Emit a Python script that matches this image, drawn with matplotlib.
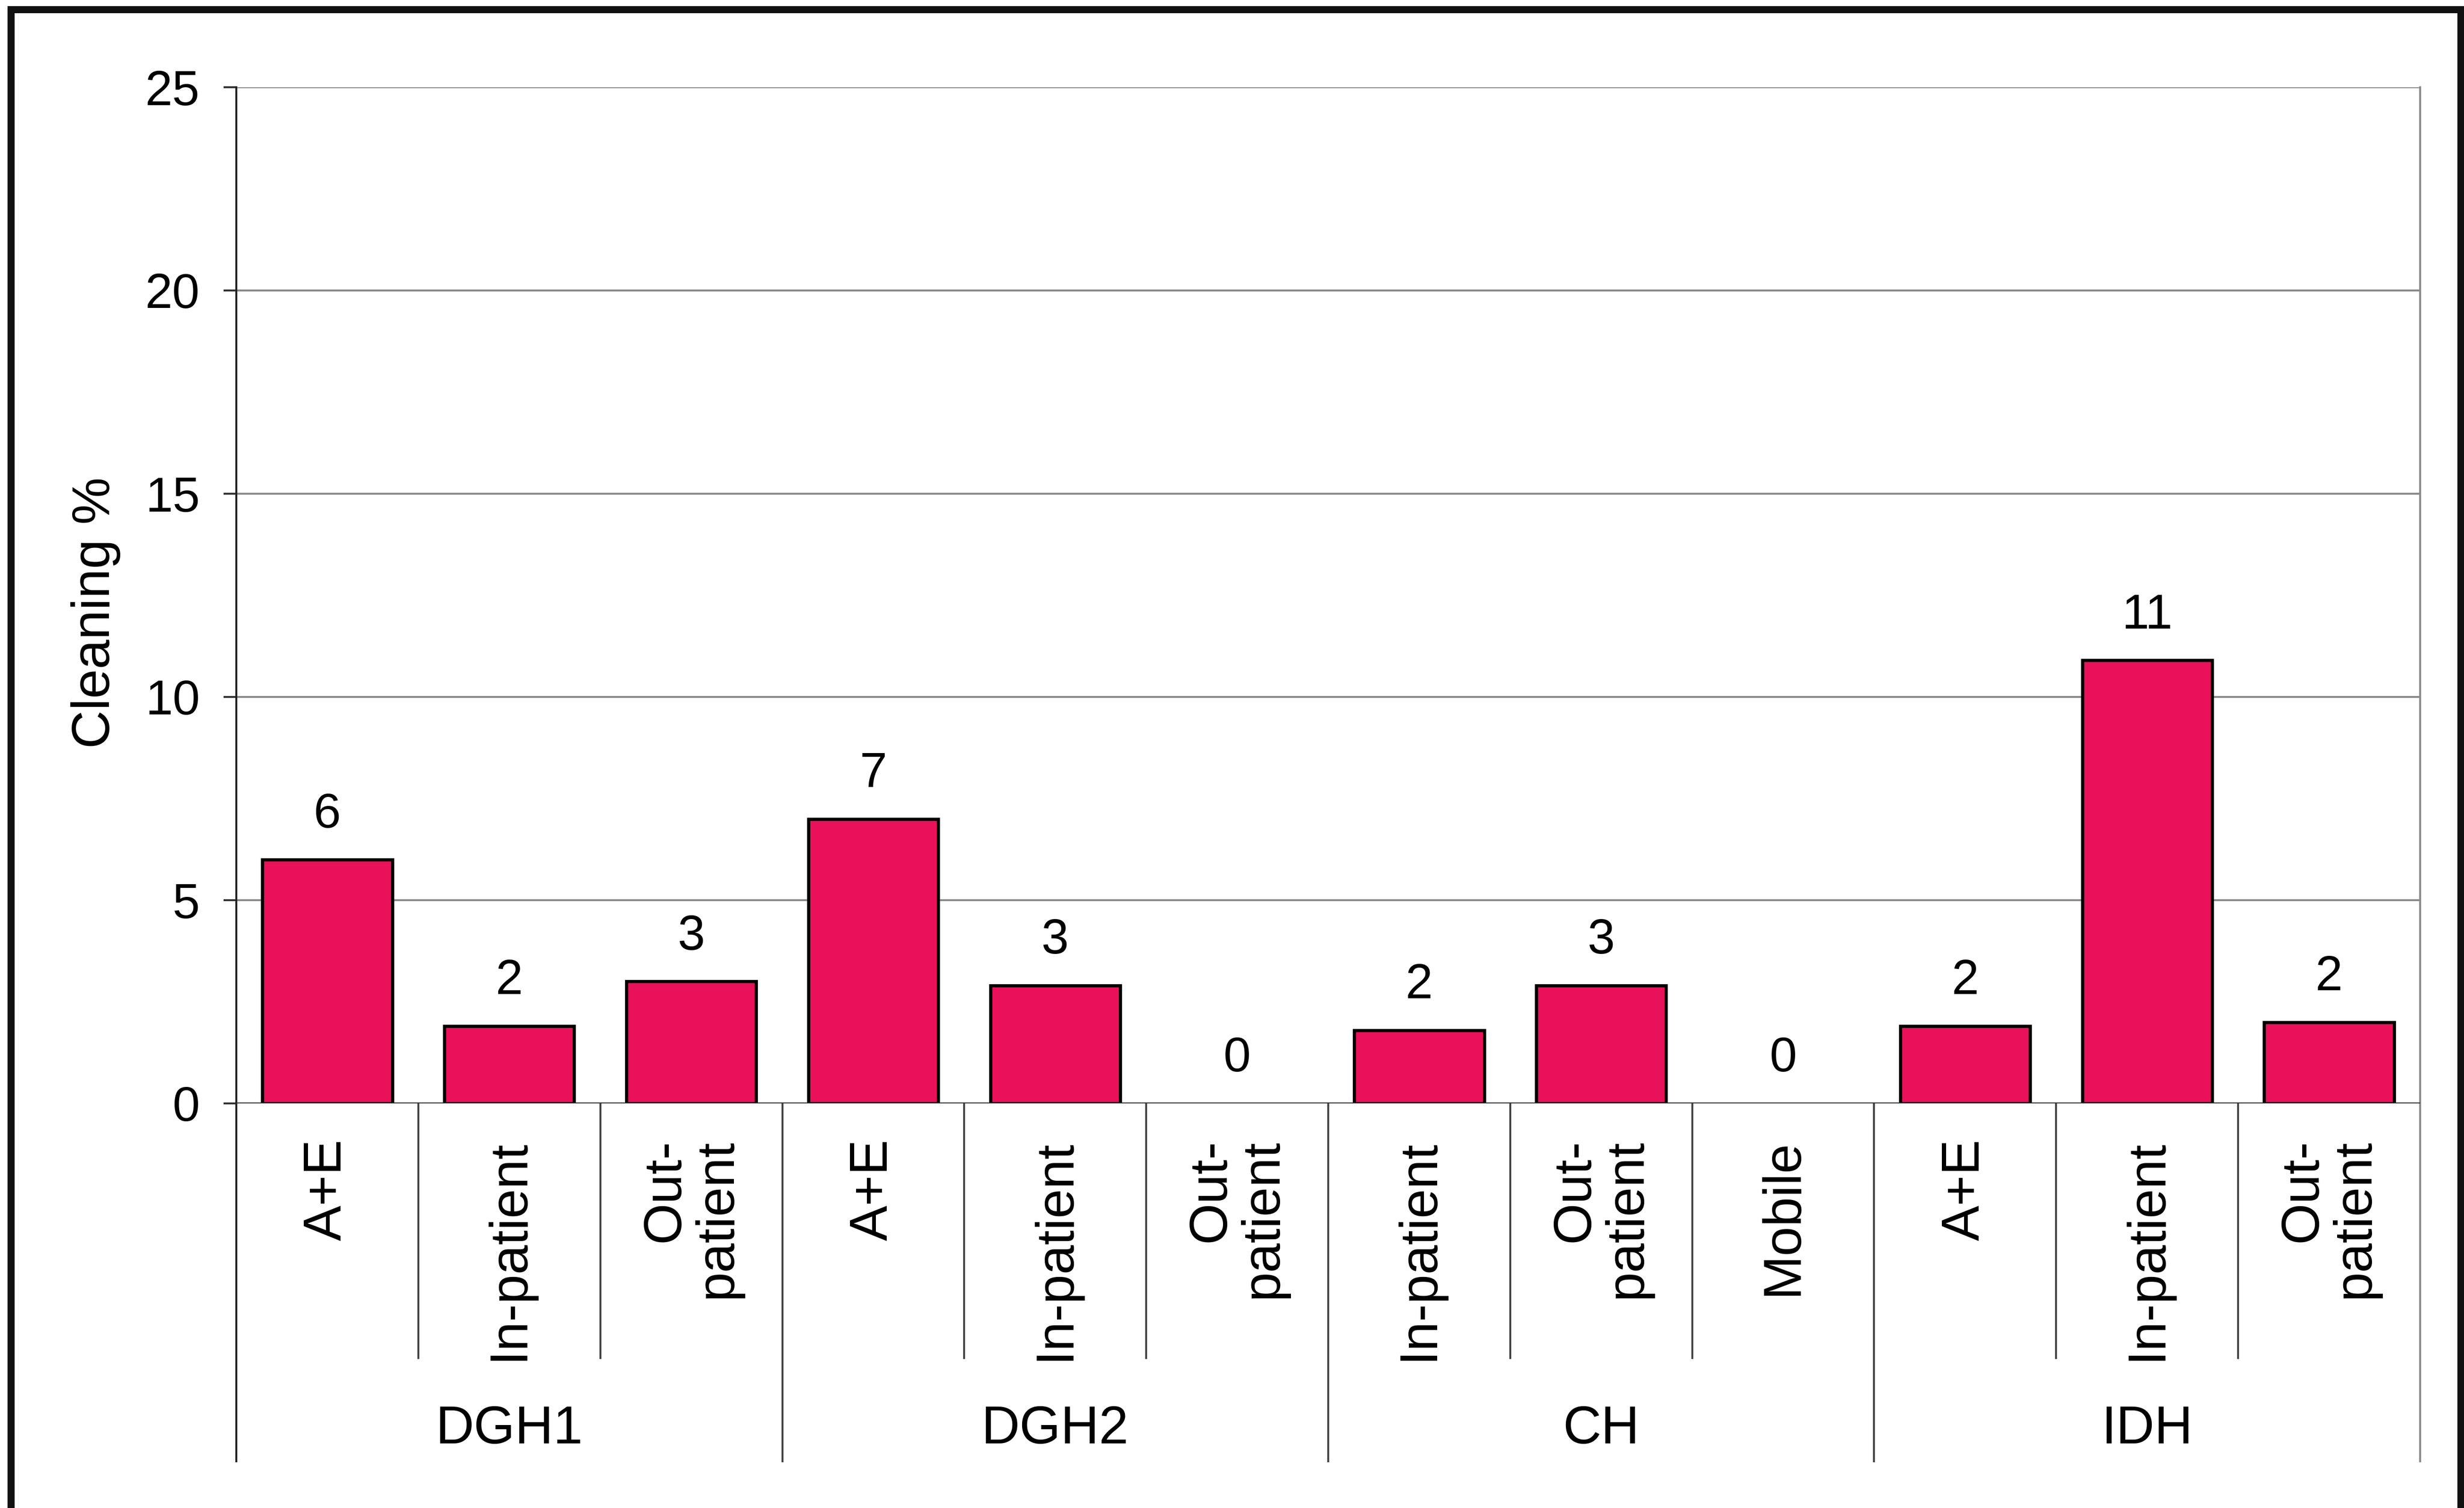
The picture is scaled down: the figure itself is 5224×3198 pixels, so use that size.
import numpy as np
import matplotlib
matplotlib.use("Agg")
import matplotlib.pyplot as plt
from matplotlib.patches import Rectangle

plt.rcParams['font.family'] = ['Liberation Sans', 'DejaVu Sans']

# data
groups = ['DGH1', 'DGH2', 'CH', 'IDH']
depts = ['A+E', 'In-patient', 'Out-\npatient',
         'A+E', 'In-patient', 'Out-\npatient',
         'In-patient', 'Out-\npatient', 'Mobile',
         'A+E', 'In-patient', 'Out-\npatient']
cleaning = [6.0, 1.9, 3.0, 7.0, 2.9, 0.0, 1.8, 2.9, 0.0, 1.9, 10.9, 2.0]
yticks = [0, 5, 10, 15, 20, 25]

bar_col = '#E8115A'
fs = 25
fs_cat = 27

fig = plt.figure(figsize=(5224 / 300, 3198 / 300), dpi=300)
ax = fig.add_axes([501 / 5224, 1 - 2340 / 3198, 4630 / 5224, 2155 / 3198])

x = np.arange(len(cleaning))
bars = ax.bar(x, cleaning, width=0.714, color=bar_col, edgecolor='black',
              linewidth=1.6, zorder=3)
for b, v in zip(bars, cleaning):
    if v == 0:
        b.set_linewidth(0)
    ax.annotate('{:.0f}'.format(v), (b.get_x() + b.get_width() / 2, v),
                xytext=(0, 11), textcoords='offset points',
                ha='center', va='bottom', fontsize=fs)

ax.set_xlim(-0.5, len(cleaning) - 0.5)
ax.set_ylim(0, 25)
ax.set_yticks(yticks)
ax.set_yticklabels([str(t) for t in yticks], fontsize=fs)
ax.tick_params(axis='y', length=6.5, width=1.0, pad=12, color='#333333')
ax.set_xticks([])
ax.grid(axis='y', color='#8a8a8a', linewidth=1.0, zorder=0)

for s in ['top', 'bottom']:
    ax.spines[s].set_visible(False)
ax.spines['right'].set_color('#8a8a8a')
ax.spines['right'].set_linewidth(1.0)
ax.spines['left'].set_color('#222222')
ax.spines['left'].set_linewidth(1.0)
ax.axhline(0, color='#333333', linewidth=1.2, zorder=4)

ax.set_ylabel('Cleaning %', fontsize=fs_cat)
ax.yaxis.set_label_coords(-0.053, 0.483)

# category separators and labels below the axis
trans = ax.get_xaxis_transform()
short_end = -0.2506
long_end = -0.352
for i in range(len(cleaning) + 1):
    xs = i - 0.5
    end = long_end if i % 3 == 0 else short_end
    col = '#222222' if i == 0 else ('#8a8a8a' if i == len(cleaning) else '#444444')
    ax.plot([xs, xs], [0, end], transform=trans, color=col,
            linewidth=1.0, clip_on=False)

for i, d in enumerate(depts):
    ax.text(i, -0.035, d, transform=trans, rotation=90, ha='center', va='top',
            multialignment='right', fontsize=fs_cat, linespacing=1.05)

for g, name in enumerate(groups):
    ax.text(g * 3 + 1, -0.321, name, transform=trans, ha='center', va='center',
            fontsize=fs_cat)

# outer frame of the figure
fig.patches.append(Rectangle((23 / 5224, -0.1), (5217 - 23) / 5224, 1.1 - 20 / 3198,
                             transform=fig.transFigure, fill=False,
                             edgecolor='#111111', linewidth=3.6))

fig.savefig('out.png', dpi=300, facecolor='white')
